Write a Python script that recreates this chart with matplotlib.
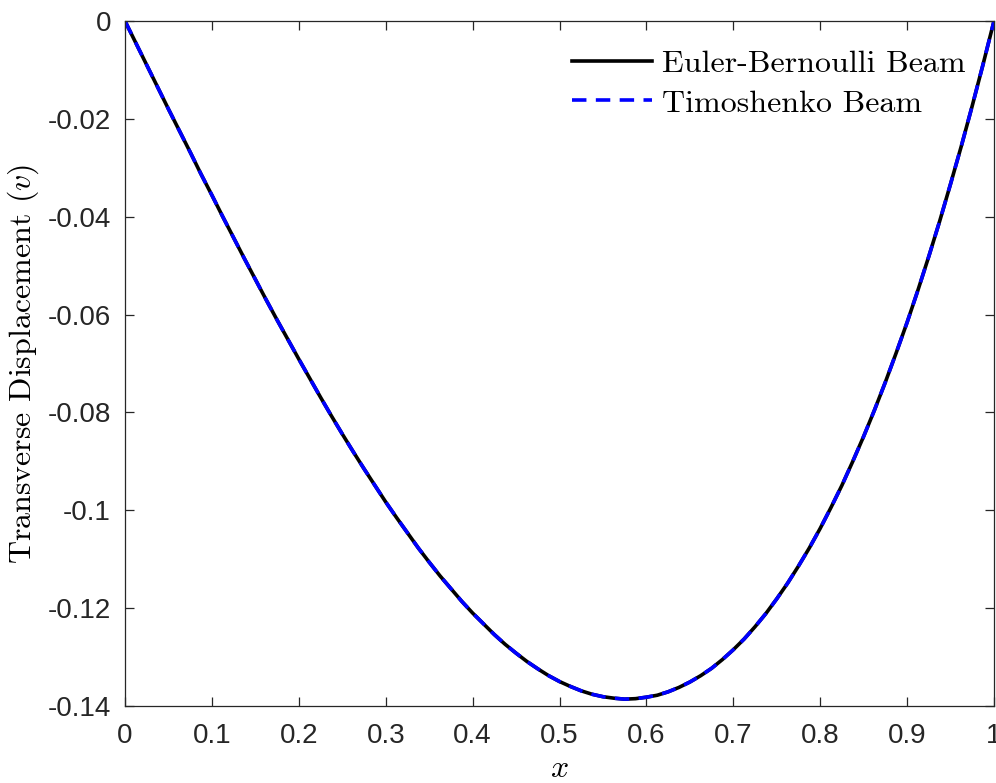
import matplotlib as mpl
mpl.use("Agg")
import matplotlib.pyplot as plt

# transverse displacement at x steps of 0.0125
x_vals = [0.0, 0.0125, 0.025, 0.0375, 0.05, 0.0625, 0.075, 0.0875, 0.1,
          0.1125, 0.125, 0.1375, 0.15, 0.1625, 0.175, 0.1875, 0.2,
          0.2125, 0.225, 0.2375, 0.25, 0.2625, 0.275, 0.2875, 0.3,
          0.3125, 0.325, 0.3375, 0.35, 0.3625, 0.375, 0.3875, 0.4,
          0.4125, 0.425, 0.4375, 0.45, 0.4625, 0.475, 0.4875, 0.5,
          0.5125, 0.525, 0.5375, 0.55, 0.5625, 0.575, 0.5875, 0.6,
          0.6125, 0.625, 0.6375, 0.65, 0.6625, 0.675, 0.6875, 0.7,
          0.7125, 0.725, 0.7375, 0.75, 0.7625, 0.775, 0.7875, 0.8,
          0.8125, 0.825, 0.8375, 0.85, 0.8625, 0.875, 0.8875, 0.9,
          0.9125, 0.925, 0.9375, 0.95, 0.9625, 0.975, 0.9875, 1.0]
v_euler = [0.0, -0.0045, -0.0090, -0.0135, -0.0180, -0.0224, -0.0268, -0.0313, -0.0356,
           -0.0400, -0.0443, -0.0486, -0.0528, -0.0570, -0.0611, -0.0651, -0.0691,
           -0.0730, -0.0769, -0.0807, -0.0844, -0.0880, -0.0915, -0.0949, -0.0983,
           -0.1015, -0.1046, -0.1077, -0.1106, -0.1134, -0.1160, -0.1186, -0.1210,
           -0.1232, -0.1254, -0.1274, -0.1292, -0.1309, -0.1324, -0.1338, -0.1350,
           -0.1360, -0.1369, -0.1376, -0.1381, -0.1384, -0.1386, -0.1385, -0.1382,
           -0.1378, -0.1371, -0.1362, -0.1351, -0.1338, -0.1323, -0.1305, -0.1285,
           -0.1263, -0.1238, -0.1211, -0.1181, -0.1149, -0.1114, -0.1077, -0.1037,
           -0.0994, -0.0949, -0.0900, -0.0849, -0.0795, -0.0738, -0.0678, -0.0616,
           -0.0550, -0.0481, -0.0409, -0.0333, -0.0255, -0.0173, -0.0088, 0.0]
v_timo = list(v_euler)  # indistinguishable from Euler-Bernoulli in the picture

labels = ["Euler-Bernoulli Beam", "Timoshenko Beam"]
xticks = [0, 0.1, 0.2, 0.3, 0.4, 0.5, 0.6, 0.7, 0.8, 0.9, 1]
xtick_labels = ["0", "0.1", "0.2", "0.3", "0.4", "0.5", "0.6", "0.7", "0.8", "0.9", "1"]
yticks = [-0.14, -0.12, -0.1, -0.08, -0.06, -0.04, -0.02, 0]
ytick_labels = ["-0.14", "-0.12", "-0.1", "-0.08", "-0.06", "-0.04", "-0.02", "0"]

mpl.rcParams.update({
    "font.family": "Liberation Sans",
    "mathtext.fontset": "cm",
})
AX_COL = "#262626"

fig = plt.figure(figsize=(9.96, 7.83), dpi=100)
ax = fig.add_axes([125 / 996, 1 - 706 / 783, (994 - 125) / 996, (706 - 21) / 783])

ax.plot(x_vals, v_euler, color="black", lw=2.6, label=labels[0],
        solid_joinstyle="round")
ax.plot(x_vals, v_timo, color="#0000ff", lw=2.6, ls=(0, (4, 2.6)), label=labels[1],
        dash_joinstyle="round")

ax.set_xlim(0, 1)
ax.set_ylim(-0.14, 0)
ax.set_xticks(xticks)
ax.set_xticklabels(xtick_labels)
ax.set_yticks(yticks)
ax.set_yticklabels(ytick_labels)
ax.tick_params(direction="in", length=6.5, width=0.9, colors=AX_COL,
               labelsize=20, top=True, right=True)
ax.tick_params(axis="x", pad=12)
ax.tick_params(axis="y", pad=10)
for s in ax.spines.values():
    s.set_color(AX_COL)
    s.set_linewidth(0.9)

ax.set_xlabel("$x$", fontsize=23, labelpad=4)
ax.set_ylabel("Transverse Displacement $(v)$", fontsize=23, family="cmr10",
              labelpad=5)

leg = ax.legend(loc="upper right", frameon=False, prop={"family": "cmr10", "size": 23},
                handlelength=2.5, handletextpad=0.3, labelspacing=0.35,
                borderaxespad=0.5)

fig.savefig("out.png", dpi=100)
